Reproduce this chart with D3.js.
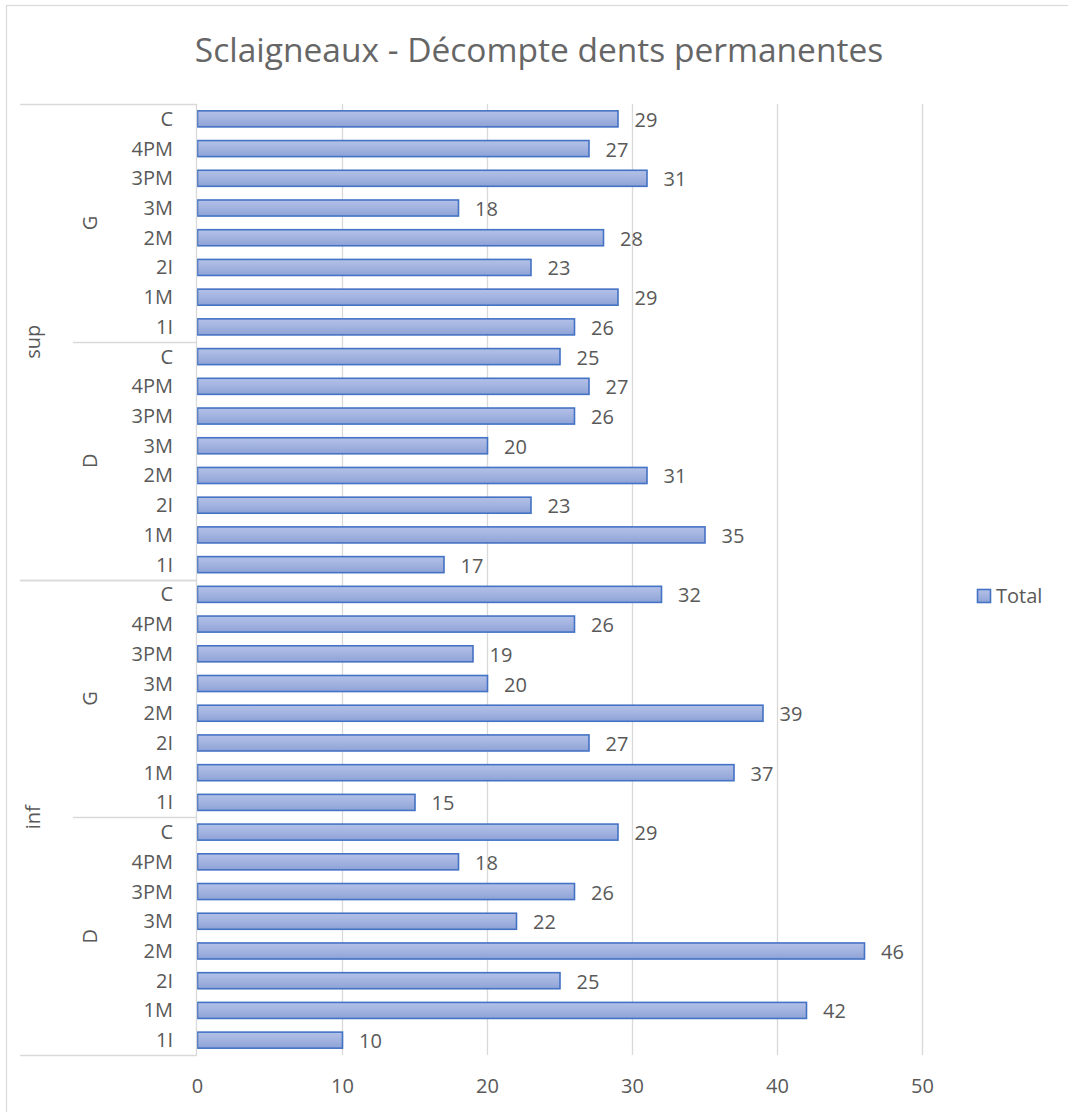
<!DOCTYPE html>
<html>
<head>
<meta charset="utf-8">
<script src="https://cdn.jsdelivr.net/npm/d3@7"></script>
<style>
  html, body { margin: 0; padding: 0; background: #fff; }
  svg { display: block; }
  text { font-family: "Open Sans", "Liberation Sans", sans-serif; fill: #595959; }
</style>
</head>
<body>
<svg id="chart" width="1068" height="1112"></svg>
<script>
// Category levels (listed bottom-up, as the axis is drawn)
const jaws = ["inf", "sup"];
const sides = ["D", "G"];
const teeth = ["1I", "1M", "2I", "2M", "3M", "3PM", "4PM", "C"];

// Counts per tooth, one array per jaw/side group (order follows `teeth`)
const infD = [10, 42, 25, 46, 22, 26, 18, 29];
const infG = [15, 37, 27, 39, 20, 19, 26, 32];
const supD = [17, 35, 23, 31, 20, 26, 27, 25];
const supG = [26, 29, 23, 28, 18, 31, 27, 29];

const xTicks = [0, 10, 20, 30, 40, 50];
const seriesName = "Total";
const titleText = "Sclaigneaux - Décompte dents permanentes";

const groupValues = { "inf|D": infD, "inf|G": infG, "sup|D": supD, "sup|G": supG };

// Flatten into rows, bottom to top
const rows = [];
jaws.forEach(j => sides.forEach(s => teeth.forEach((t, i) => {
  rows.push({ key: `${j}|${s}|${t}`, jaw: j, side: s, tooth: t, value: groupValues[`${j}|${s}`][i] });
})));

const svg = d3.select("#chart");
const W = 1068, H = 1112;
const plot = { left: 197, right: 922, top: 104, bottom: 1055 };
const labelSize = "20px";

// Chart frame
svg.append("rect")
  .attr("x", 6.5).attr("y", 5.5)
  .attr("width", W + 20).attr("height", H + 20)
  .attr("fill", "#fff").attr("stroke", "#d9d9d9").attr("stroke-width", 1.2);

// Gradient for bars
const defs = svg.append("defs");
const grad = defs.append("linearGradient").attr("id", "barGrad")
  .attr("x1", 0).attr("y1", 0).attr("x2", 0).attr("y2", 1);
grad.append("stop").attr("offset", "0%").attr("stop-color", "#b3c1e7");
grad.append("stop").attr("offset", "50%").attr("stop-color", "#a2b3e0");
grad.append("stop").attr("offset", "100%").attr("stop-color", "#8ea2d6");

const x = d3.scaleLinear().domain([0, 50]).range([plot.left, plot.right]);
const y = d3.scaleBand()
  .domain(rows.map(d => d.key))
  .range([plot.bottom, plot.top])
  .paddingInner(0.46).paddingOuter(0.23);
const yStep = y.step();

// Title
svg.append("text")
  .attr("x", 539).attr("y", 62)
  .attr("text-anchor", "middle")
  .style("font-size", "33.5px")
  .attr("fill", "#666")
  .style("fill", "#666")
  .text(titleText);

// Vertical gridlines
svg.append("g")
  .selectAll("line")
  .data(xTicks.filter(v => v > 0))
  .join("line")
  .attr("x1", d => x(d) + 0.5).attr("x2", d => x(d) + 0.5)
  .attr("y1", plot.top).attr("y2", plot.bottom)
  .attr("stroke", "#d9d9d9").attr("stroke-width", 1.3);

// X axis labels
const xAxis = d3.axisBottom(x).tickValues(xTicks).tickSize(0).tickPadding(0).tickFormat(d3.format("d"));
const gx = svg.append("g").attr("transform", `translate(0,${plot.bottom})`).call(xAxis);
gx.select(".domain").remove();
gx.selectAll("text")
  .attr("y", 38).attr("dy", null)
  .style("font-size", labelSize).style("font-family", '"Open Sans", sans-serif').attr("fill", "#595959");

// Bars
svg.append("g")
  .selectAll("rect")
  .data(rows)
  .join("rect")
  .attr("x", x(0) + 0.5)
  .attr("y", d => y(d.key))
  .attr("width", d => x(d.value) - x(0))
  .attr("height", y.bandwidth())
  .attr("fill", "url(#barGrad)")
  .attr("stroke", "#4472c4").attr("stroke-width", 1.6);

// Value labels
svg.append("g")
  .selectAll("text")
  .data(rows)
  .join("text")
  .attr("x", d => x(d.value) + 17)
  .attr("y", d => y(d.key) + y.bandwidth() / 2 + 1)
  .attr("dy", "0.35em")
  .style("font-size", labelSize)
  .text(d => d.value);

// Category axis: vertical line
const axisColor = "#d9d9d9";
const cat = svg.append("g");
cat.append("line")
  .attr("x1", plot.left - 0.5).attr("x2", plot.left - 0.5)
  .attr("y1", plot.top).attr("y2", plot.bottom)
  .attr("stroke", axisColor).attr("stroke-width", 1.3);

// Tooth labels
cat.selectAll("text.tooth")
  .data(rows)
  .join("text")
  .attr("class", "tooth")
  .attr("x", 173)
  .attr("y", d => y(d.key) + y.bandwidth() / 2)
  .attr("dy", "0.35em")
  .attr("text-anchor", "end")
  .style("font-size", labelSize)
  .text(d => d.tooth);

// Side groups (D / G) and jaw groups (inf / sup)
const sideGroups = [];
jaws.forEach(j => sides.forEach(s => {
  const keys = rows.filter(r => r.jaw === j && r.side === s).map(r => r.key);
  sideGroups.push({ jaw: j, side: s, y0: y(keys[0]) + y.bandwidth() + yStep * y.paddingInner() / 2, y1: y(keys[keys.length - 1]) - yStep * y.paddingInner() / 2 });
}));
const jawGroups = jaws.map(j => {
  const g = sideGroups.filter(s => s.jaw === j);
  return { jaw: j, y0: d3.max(g, d => d.y0), y1: d3.min(g, d => d.y1) };
});

// Separators between side groups (inner) and jaw groups (full width)
const boundaryLines = [];
jawGroups.forEach(jg => {
  boundaryLines.push({ y: jg.y0, x1: 20 });
  boundaryLines.push({ y: jg.y1, x1: 20 });
});
sideGroups.forEach(sg => {
  const isJawEdge = jawGroups.some(jg => Math.abs(jg.y0 - sg.y0) < 1);
  if (!isJawEdge) boundaryLines.push({ y: sg.y0, x1: 73 });
});
cat.selectAll("line.sep")
  .data(boundaryLines)
  .join("line")
  .attr("class", "sep")
  .attr("x1", d => d.x1).attr("x2", plot.left)
  .attr("y1", d => Math.round(d.y) + 0.5).attr("y2", d => Math.round(d.y) + 0.5)
  .attr("stroke", axisColor).attr("stroke-width", 1.3);

cat.selectAll("text.side")
  .data(sideGroups)
  .join("text")
  .attr("class", "side")
  .attr("transform", d => `translate(90,${(d.y0 + d.y1) / 2}) rotate(-90)`)
  .attr("text-anchor", "middle")
  .attr("dy", "0.35em")
  .style("font-size", labelSize)
  .text(d => d.side);

cat.selectAll("text.jaw")
  .data(jawGroups)
  .join("text")
  .attr("class", "jaw")
  .attr("transform", d => `translate(33,${(d.y0 + d.y1) / 2}) rotate(-90)`)
  .attr("text-anchor", "middle")
  .attr("dy", "0.35em")
  .style("font-size", labelSize)
  .text(d => d.jaw);

// Legend
const legend = svg.append("g").attr("transform", "translate(977,589)");
legend.append("rect")
  .attr("x", 0.5).attr("y", 0.5).attr("width", 13).attr("height", 13)
  .attr("fill", "url(#barGrad)").attr("stroke", "#4472c4").attr("stroke-width", 1.6);
legend.append("text")
  .attr("x", 19).attr("y", 7).attr("dy", "0.35em")
  .style("font-size", labelSize)
  .text(seriesName);
</script>
</body>
</html>
